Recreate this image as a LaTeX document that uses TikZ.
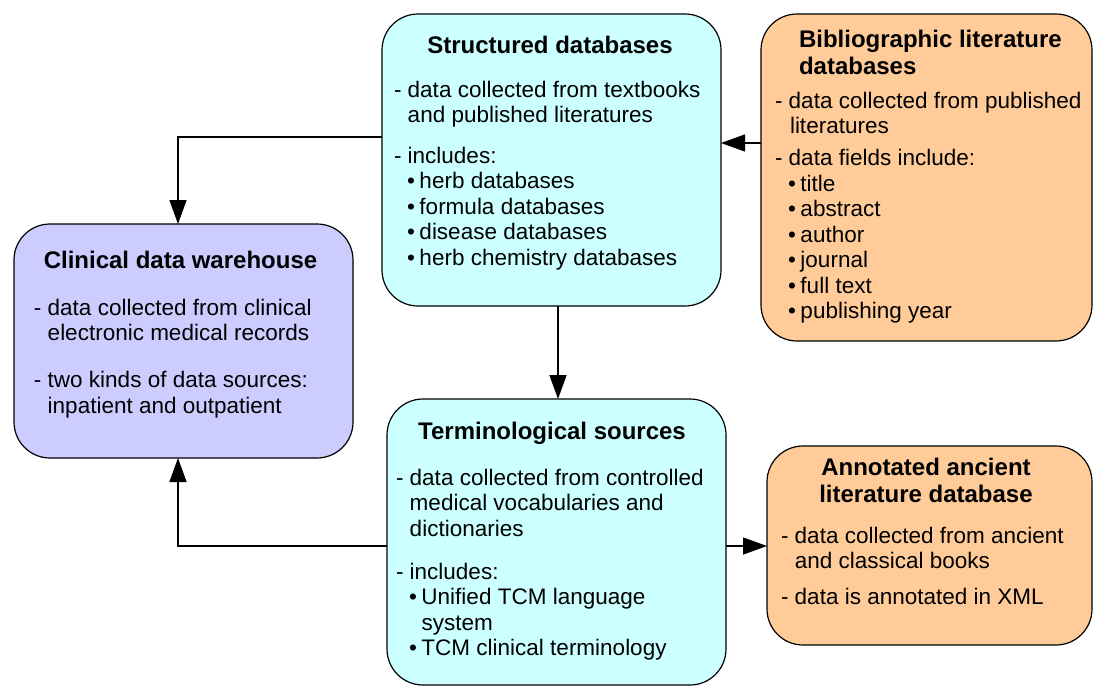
\documentclass[tikz,border=0pt]{standalone}
\usepackage{fontspec}
\setmainfont{Liberation Sans}
\usetikzlibrary{arrows.meta}
\definecolor{cyanfill}{RGB}{204,255,255}
\definecolor{lavfill}{RGB}{204,204,255}
\definecolor{peachfill}{RGB}{255,204,153}
\newcommand\fs{\rule{0pt}{18pt}}
\newcommand\cont{\phantom{- }}
\newcommand\bul{\hspace*{13pt}\makebox[12.5pt][l]{\textbullet}}
\begin{document}
\begin{tikzpicture}[x=1pt,y=-1pt,
  box/.style={draw=black, line width=1.2pt, rounded corners=36pt, inner sep=0pt, outer sep=0pt},
  ttl/.style={font=\fontsize{24}{27}\selectfont\bfseries, inner sep=0pt, outer sep=0pt},
  body/.style={font=\fontsize{22.5}{25.5}\selectfont, align=left, anchor=north west, inner sep=0pt, outer sep=0pt},
  arr/.style={line width=1.3pt, -{Triangle[length=24pt,width=17pt]}}]
\useasboundingbox (0,0) rectangle (1093,686);

% boxes
\node[box, fill=cyanfill, minimum width=339pt, minimum height=292pt] (sd) at (551.5,160) {};
\node[box, fill=lavfill, minimum width=339pt, minimum height=234pt] (cdw) at (183.5,341) {};
\node[box, fill=peachfill, minimum width=331pt, minimum height=327pt] (bib) at (926.5,177.5) {};
\node[box, fill=cyanfill, minimum width=339pt, minimum height=286pt] (ts) at (556.5,542) {};
\node[box, fill=peachfill, minimum width=325pt, minimum height=199pt] (aal) at (929.5,545.5) {};

% titles
\node[ttl, anchor=base] (sdt) at (550,53) {Structured databases};
\node[ttl, anchor=base] (cdwt) at (180.5,268) {Clinical data warehouse};
\node[ttl, anchor=base] (tst) at (552,439) {Terminological sources};
\node[ttl, align=left, anchor=north west] (bibt) at (799,29) {\fs Bibliographic literature\\databases};
\node[ttl, align=center, anchor=north] (aalt) at (926,457) {\fs Annotated ancient\\literature database};

% bodies
\node[body] (sdb) at (394,79) {\fs - data collected from textbooks\\
\cont and published literatures\\[15pt]
- includes:\\
\bul herb databases\\
\bul formula databases\\
\bul disease databases\\
\bul herb chemistry databases};

\node[body] (cdwb) at (34,297) {\fs - data collected from clinical\\
\cont electronic medical records\\[21.5pt]
- two kinds of data sources:\\
\cont inpatient and outpatient};

\node[body] (bibb) at (775,90) {\fs - data collected from published\\
\hspace*{15pt}literatures\\[6.5pt]
- data fields include:\\
\bul title\\
\bul abstract\\
\bul author\\
\bul journal\\
\bul full text\\
\bul publishing year};

\node[body] (aalb) at (781,525) {\fs - data collected from ancient\\
\cont and classical books\\[10.5pt]
- data is annotated in XML};

\node[body] (tsb) at (396,467) {\fs - data collected from controlled\\
\cont medical vocabularies and\\
\cont dictionaries\\[17.5pt]
- includes:\\
\bul Unified TCM language\\
\hspace*{13pt}\hspace*{12.5pt}system\\
\bul TCM clinical terminology};

% connectors
\coordinate (c1) at (178,137);
\coordinate (c2) at (740,143);
\coordinate (c3) at (558,350);
\coordinate (c4) at (178,546);
\draw[arr] (sd.west |- c1) -- (c1) -- (c1 |- cdw.north);
\draw[arr] (bib.west |- c2) -- (sd.east |- c2);
\draw[arr] (sd.south -| c3) -- (ts.north -| c3);
\draw[arr] (ts.west |- c4) -- (c4) -- (c4 |- cdw.south);
\draw[arr] (ts.east |- c4) -- (aal.west |- c4);
\end{tikzpicture}
\end{document}
